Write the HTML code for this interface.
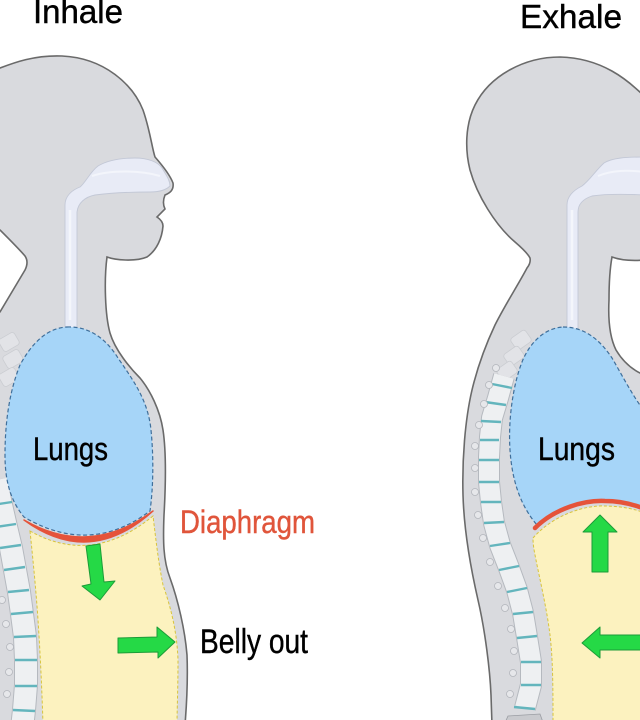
<!DOCTYPE html>
<html><head><meta charset="utf-8"><style>
html,body{margin:0;padding:0;background:#fff;}
svg{display:block;}
</style></head><body>
<svg width="640" height="720" viewBox="0 0 640 720" xmlns="http://www.w3.org/2000/svg">
<rect width="640" height="720" fill="#fff"/>

<!-- LEFT FIGURE BODY -->
<path d="M -5,230 L 0,230 C 10,240 19,249 25,256 Q 29,262 25,270 L 0,312 L -5,312 L -5,725 L 185,725 C 187,700 188,680 187,655 C 185,630 178,600 170,578 C 163,560 163,540 164,515 C 166,480 166,450 163,430 C 160,410 150,390 140,378 C 130,368 115,350 110,333 C 105,315 104,280 107,257 C 115,260 135,262 147,257 C 157,250 162,238 163,226 C 163,222 160,219 157,217 L 165,209 C 163,205 163,200 165,195 C 170,193 174,190 173,183 C 170,175 162,165 155,157 C 152,148 150,130 143,110 C 133,85 105,58 62,56 C 35,55 15,62 -5,70 Z" fill="#d9dade" stroke="#6a6a6a" stroke-width="1.6"/>

<!-- RIGHT FIGURE BODY -->
<path d="M 645,97 C 628,80 602,58 560,57 C 525,57 490,75 475,105 C 465,125 465,150 470,170 C 477,195 495,225 515,242 C 522,248 528,254 530,258 Q 531,263 527,268 C 518,285 505,305 495,325 C 487,342 478,365 472,390 C 465,420 462,460 463,495 C 464,530 470,565 478,600 C 485,630 490,670 491,695 L 492,725 L 645,725 L 645,376 L 640,373 C 630,368 622,360 616,350 C 610,338 608,320 609,300 C 609,285 610,268 612,257 C 620,260 632,261 645,260 Z" fill="#d9dade" stroke="#6a6a6a" stroke-width="1.6"/>

<!-- faint upper vertebrae -->
<g opacity="0.45" fill="#eef0f2" stroke="#b9bcc2" stroke-width="0.8">
  <rect x="0" y="335" width="18" height="14" rx="3" transform="rotate(-30 9 342)"/>
  <rect x="4" y="352" width="18" height="14" rx="3" transform="rotate(-30 13 359)"/>
  <rect x="0" y="370" width="18" height="14" rx="3" transform="rotate(-30 9 377)"/>
  <rect x="512" y="333" width="18" height="14" rx="3" transform="rotate(-35 521 340)"/>
  <rect x="505" y="349" width="18" height="14" rx="3" transform="rotate(-35 514 356)"/>
  <rect x="498" y="364" width="18" height="14" rx="3" transform="rotate(-35 507 371)"/>
</g>

<!-- RIGHT SPINE -->
<g fill="none" stroke-linejoin="round">
  <polyline points="504,376 498,398 492,418 490,437 489,457 489,482 491,502 494,523 500,545 509,568 517,590 523,613 527,637 531,662 531,685 525,708" stroke="#b5b9bf" stroke-width="22"/>
  <polyline points="504,376 498,398 492,418 490,437 489,457 489,482 491,502 494,523 500,545 509,568 517,590 523,613 527,637 531,662 531,685 525,708" stroke="#eef0f2" stroke-width="20"/>
</g>
<g stroke="#63b5bd" stroke-width="2.4">
  <line x1="492" y1="384" x2="512" y2="388"/>
  <line x1="485" y1="402" x2="506" y2="405"/>
  <line x1="481" y1="421" x2="501" y2="422"/>
  <line x1="480" y1="440" x2="499" y2="440"/>
  <line x1="479" y1="460" x2="499" y2="460"/>
  <line x1="479" y1="482" x2="499" y2="482"/>
  <line x1="481" y1="502" x2="501" y2="502"/>
  <line x1="484" y1="523" x2="504" y2="522"/>
  <line x1="490" y1="546" x2="510" y2="543"/>
  <line x1="499" y1="570" x2="519" y2="566"/>
  <line x1="507" y1="592" x2="527" y2="588"/>
  <line x1="513" y1="614" x2="533" y2="612"/>
  <line x1="517" y1="638" x2="537" y2="636"/>
  <line x1="521" y1="662" x2="541" y2="662"/>
  <line x1="521" y1="685" x2="541" y2="685"/>
  <line x1="514" y1="707" x2="535" y2="709"/>
</g>
<g fill="#e6e7ea" stroke="#b3b6bc" stroke-width="0.8">
  <circle cx="496" cy="368" r="3.5"/><circle cx="489" cy="385" r="3.5"/><circle cx="484" cy="404" r="3.5"/>
  <circle cx="479" cy="425" r="3.5"/><circle cx="475" cy="446" r="3.5"/><circle cx="475" cy="468" r="3.5"/>
  <circle cx="475" cy="492" r="3.5"/><circle cx="478" cy="515" r="3.5"/><circle cx="483" cy="538" r="3.5"/>
  <circle cx="490" cy="562" r="3.5"/><circle cx="498" cy="586" r="3.5"/><circle cx="505" cy="608" r="3.5"/>
  <circle cx="511" cy="629" r="3.5"/><circle cx="514" cy="651" r="3.5"/><circle cx="513" cy="673" r="3.5"/>
  <circle cx="510" cy="694" r="3.5"/>
</g>
<path d="M 508,716 L 540,714 L 544,725 L 504,725 Z" fill="#c9cace" stroke="#9a9da3" stroke-width="0.8"/>

<!-- LEFT SPINE -->
<g fill="none" stroke-linejoin="round">
  <polyline points="-4,480 1,505 6,527 11,548 15,570 19,592 22,614 25,637 26,660 26,685 24,710 22,728" stroke="#b5b9bf" stroke-width="24"/>
  <polyline points="-4,480 1,505 6,527 11,548 15,570 19,592 22,614 25,637 26,660 26,685 24,710 22,728" stroke="#eef0f2" stroke-width="22"/>
</g>
<g stroke="#63b5bd" stroke-width="2.4">
  <line x1="-8" y1="505" x2="12" y2="502"/>
  <line x1="-4" y1="527" x2="16" y2="524"/>
  <line x1="0" y1="548" x2="21" y2="545"/>
  <line x1="4" y1="570" x2="25" y2="567"/>
  <line x1="8" y1="592" x2="29" y2="590"/>
  <line x1="11" y1="614" x2="33" y2="612"/>
  <line x1="14" y1="637" x2="36" y2="636"/>
  <line x1="15" y1="660" x2="37" y2="660"/>
  <line x1="15" y1="686" x2="37" y2="686"/>
  <line x1="13" y1="710" x2="35" y2="711"/>
</g>
<g fill="#e6e7ea" stroke="#b3b6bc" stroke-width="0.8">
  <circle cx="2" cy="600" r="3.5"/><circle cx="6" cy="624" r="3.5"/><circle cx="10" cy="647" r="3.5"/>
  <circle cx="9" cy="672" r="3.5"/><circle cx="7" cy="694" r="3.5"/>
</g>

<!-- TRACHEA / NASAL -->
<path d="M 65,335 L 65,205 C 65,196 72,190 80,187 C 86,182 90,172 98,166 C 108,160 120,158 135,158 C 148,158 158,162 162,168 C 166,175 170,180 170,186 C 166,190 160,192 150,192 C 130,192 110,193 95,195 C 85,197 78,203 77,212 L 77,335 Z" fill="#e8ebf6" stroke="#c3c8d6" stroke-width="0.9"/>
<path d="M 92,176 C 110,170 140,170 160,176" fill="none" stroke="#f3f5fb" stroke-width="2"/>
<line x1="70" y1="210" x2="70" y2="320" stroke="#f4f6fb" stroke-width="2.5"/>
<path d="M 567,335 L 567,205 C 567,196 574,190 582,186 C 590,180 596,170 604,163 C 612,158 625,157 645,157 L 645,195 C 625,194 605,194 592,196 C 583,199 578,204 578,212 L 578,335 Z" fill="#e8ebf6" stroke="#c3c8d6" stroke-width="0.9"/>
<path d="M 598,176 C 612,170 628,170 645,172" fill="none" stroke="#f3f5fb" stroke-width="2"/>
<line x1="572" y1="210" x2="572" y2="320" stroke="#f4f6fb" stroke-width="2.5"/>

<!-- LEFT ABDOMEN -->
<path d="M 30,531 Q 92,566 153,516 C 156,540 158,560 163,585 C 170,605 177,630 178,660 C 178,690 177,710 177,725 L 43,725 C 42,690 40,650 38,620 C 36,590 33,560 30,531 Z" fill="#fcf2bf" stroke="#d8c43c" stroke-width="1" stroke-dasharray="3 2"/>

<!-- LEFT LUNG -->
<path d="M 67,327 C 92,326 108,342 118,358 C 133,380 148,400 151,430 C 154,460 153,490 150,511 Q 90,556 24,517 C 10,500 5,480 5,455 C 5,420 10,390 20,365 C 32,343 47,328 67,327 Z" fill="#a6d5f8" stroke="#3f6f9b" stroke-width="1.2" stroke-dasharray="4 2.5"/>

<!-- LEFT DIAPHRAGM -->
<path d="M 24,520 Q 90,568 153,511 Q 90,558 24,520 Z" fill="#e5533a" stroke="#e5533a" stroke-width="1.5" stroke-linejoin="round"/>

<!-- RIGHT ABDOMEN -->
<path d="M 533,538 C 553,515 585,505 605,506 C 620,506 635,509 645,513 L 645,725 L 553,725 C 553,690 553,660 550,635 C 547,610 540,580 536,560 C 534,550 533,545 533,538 Z" fill="#fcf2bf" stroke="#d8c43c" stroke-width="1" stroke-dasharray="3 2"/>

<!-- RIGHT LUNG -->
<path d="M 563,327 C 585,327 600,340 612,358 C 622,375 632,395 645,412 L 645,510 C 635,505 620,501 605,501 C 585,500 555,508 537,525 C 520,505 512,480 510,450 C 508,420 513,385 522,362 C 530,342 545,328 563,327 Z" fill="#a6d5f8" stroke="#3f6f9b" stroke-width="1.2" stroke-dasharray="4 2.5"/>

<!-- RIGHT DIAPHRAGM -->
<path d="M 535,528 C 555,508 585,500 605,501 C 620,501 635,505 645,509" fill="none" stroke="#e5533a" stroke-width="4.5" stroke-linecap="round"/>

<!-- ARROWS -->
<g fill="#25d946" stroke="#1c9c38" stroke-width="1" stroke-linejoin="round">
  <polygon points="86,546 100,544 104,582 115,581 100,600 82,586 91,584"/>
  <polygon points="118,638 157,637 157,627 175,642 158,658 158,652 118,653"/>
  <polygon points="600,515 617,532 608,532 608,572 592,572 592,532 583,532"/>
  <polygon points="582,643 600,627 600,635 645,635 645,650 600,650 600,658"/>
</g>

<!-- TEXT -->
<g font-family="'Liberation Sans', Arial, sans-serif" stroke-width="0.4">
  <text x="33" y="23" font-size="33" fill="#000" stroke="#000" textLength="90" lengthAdjust="spacingAndGlyphs">Inhale</text>
  <text x="520" y="28" font-size="33" fill="#000" stroke="#000" textLength="102" lengthAdjust="spacingAndGlyphs">Exhale</text>
  <text x="33" y="460" font-size="32" fill="#000" stroke="#000" textLength="75" lengthAdjust="spacingAndGlyphs">Lungs</text>
  <text x="538" y="460" font-size="32" fill="#000" stroke="#000" textLength="77" lengthAdjust="spacingAndGlyphs">Lungs</text>
  <text x="180" y="533" font-size="32" fill="#e0553b" stroke="#e0553b" textLength="135" lengthAdjust="spacingAndGlyphs">Diaphragm</text>
  <text x="200" y="653" font-size="34" fill="#000" stroke="#000" textLength="108" lengthAdjust="spacingAndGlyphs">Belly out</text>
</g>
</svg>
</body></html>
